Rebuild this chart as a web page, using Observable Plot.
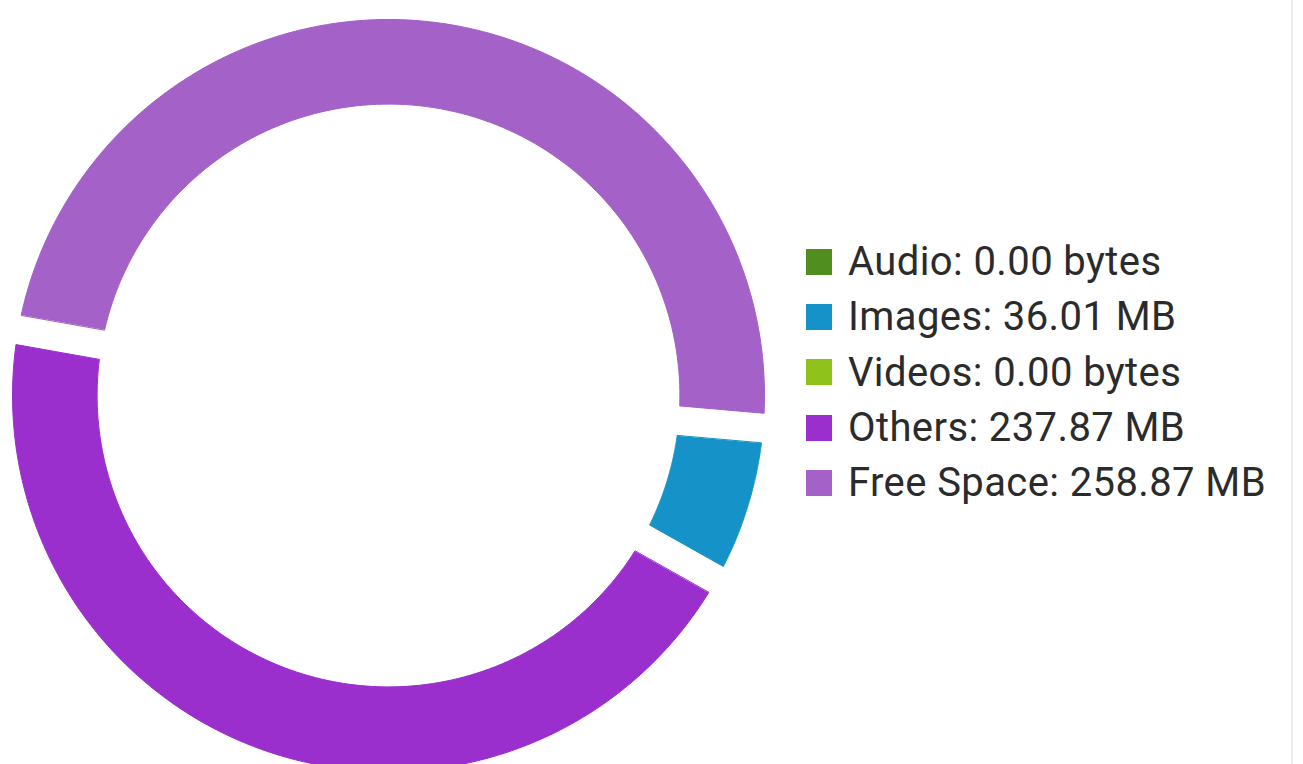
<!DOCTYPE html>
<html>
<head>
<meta charset="utf-8">
<script src="https://cdn.jsdelivr.net/npm/d3@7"></script>
<script src="https://cdn.jsdelivr.net/npm/@observablehq/plot@0.6"></script>
<style>
  html, body { margin: 0; padding: 0; background: #fff; }
  #wrap { position: relative; width: 1303px; height: 764px; overflow: hidden; background: #fff; }
  #chart { position: absolute; left: 0; top: 0; }
  #legend { position: absolute; left: 806px; top: 234px; font-family: Roboto, "Noto Sans", sans-serif; font-size: 40px; letter-spacing: 0.4px; color: #2b2b2b; }
  .row { display: flex; align-items: center; height: 55.3px; white-space: nowrap; }
  .sw { width: 26px; height: 26px; margin-right: 16px; flex: none; }
  #edge { position: absolute; left: 1291px; top: 0; width: 2px; height: 764px; background: #ececec; }
</style>
</head>
<body>
<div id="wrap">
  <div id="chart"></div>
  <div id="legend"></div>
  <div id="edge"></div>
</div>
<script>
// ---- data ----
const categories = ["Audio", "Images", "Videos", "Others", "Free Space"];
const valuesMB   = [0, 36.01, 0, 237.87, 258.87];
const valueLabels = ["0.00 bytes", "36.01 MB", "0.00 bytes", "237.87 MB", "258.87 MB"];
const colors = ["#4f8e1f", "#1592c8", "#8fc31c", "#9a2fce", "#a461c8"];

// ---- layout ----
const W = 1303, H = 764;
const R = 376;            // outer radius px
const cx = 388, cy = 395; // center px
const innerRatio = 0.775;
const gapPx = 30;
const startDeg = 95;

const rows = categories.map((c, i) => ({cat: c, value: valuesMB[i], color: colors[i], label: valueLabels[i]}));
const start = startDeg * Math.PI / 180;
const arcs = d3.pie().value(d => d.value).sort(null).startAngle(start).endAngle(start + 2 * Math.PI)(rows);

const half = (gapPx / R) / 2;
const dOut = Math.asin(half / 1);
const dIn = Math.asin(half / innerRatio);
function pt(a, r) { return {x: Math.sin(a) * r, y: Math.cos(a) * r}; }

const marks = [];
for (const a of arcs) {
  if (a.data.value <= 0) continue;
  const pts = [];
  const N = 120;
  const o0 = a.startAngle + dOut, o1 = a.endAngle - dOut;
  for (let k = 0; k <= N; k++) pts.push(pt(o0 + (o1 - o0) * k / N, 1));
  const i0 = a.startAngle + dIn, i1 = a.endAngle - dIn;
  for (let k = N; k >= 0; k--) pts.push(pt(i0 + (i1 - i0) * k / N, innerRatio));
  marks.push(Plot.line(pts, {x: "x", y: "y", fill: a.data.color, stroke: a.data.color, strokeWidth: 1, curve: "linear-closed"}));
}

const chart = Plot.plot({
  width: W, height: H,
  margin: 0,
  x: {domain: [-cx / R, (W - cx) / R], range: [0, W], axis: null},
  y: {domain: [-(H - cy) / R, cy / R], range: [H, 0], axis: null},
  style: {background: "transparent"},
  marks
});
document.getElementById("chart").appendChild(chart);

// ---- legend ----
const legend = document.getElementById("legend");
rows.forEach(r => {
  const row = document.createElement("div");
  row.className = "row";
  const sw = document.createElement("span");
  sw.className = "sw";
  sw.style.background = r.color;
  const t = document.createElement("span");
  t.textContent = `${r.cat}: ${r.label}`;
  row.appendChild(sw);
  row.appendChild(t);
  legend.appendChild(row);
});
</script>
</body>
</html>
